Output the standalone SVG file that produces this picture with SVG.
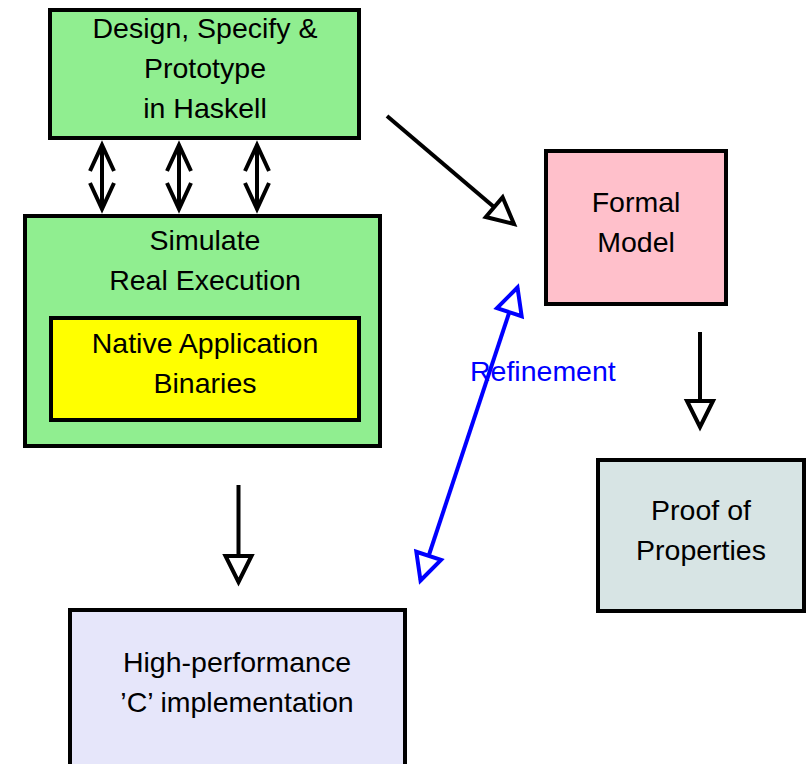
<svg xmlns="http://www.w3.org/2000/svg" width="807" height="764" viewBox="0 0 807 764">
  <style>
    .box { stroke: #000; stroke-width: 4; }
    .lbl { font-family: "Liberation Sans", Arial, sans-serif; font-size: 28.5px; fill: #000; text-anchor: middle; }
    .link { fill: none; stroke: #000; stroke-width: 4; }
    .blue { stroke: #0000ff; }
  </style>
  <defs>
    <!-- open chevron head -->
    <marker id="vee" markerUnits="userSpaceOnUse" viewBox="-32 -18 40 36" refX="0" refY="0" markerWidth="40" markerHeight="36" orient="auto-start-reverse" overflow="visible">
      <path d="M-26,-12 L0,0 L-26,12" fill="none" stroke="#000" stroke-width="4"/>
    </marker>
    <!-- hollow triangle head -->
    <marker id="tri" markerUnits="userSpaceOnUse" viewBox="-32 -18 40 36" refX="0" refY="0" markerWidth="40" markerHeight="36" orient="auto-start-reverse" overflow="visible">
      <path d="M0,0 L-26,-13 L-26,13 Z" fill="#fff" stroke="#000" stroke-width="4"/>
    </marker>
    <marker id="triBlue" markerUnits="userSpaceOnUse" viewBox="-32 -18 40 36" refX="0" refY="0" markerWidth="40" markerHeight="36" orient="auto-start-reverse" overflow="visible">
      <path d="M0,0 L-26,-13 L-26,13 Z" fill="#fff" stroke="#0000ff" stroke-width="4"/>
    </marker>
  </defs>

  <g id="design">
    <rect class="box" x="50" y="10" width="309" height="128" fill="#90ee90"/>
    <text class="lbl" x="205" y="38">Design, Specify &amp;</text>
    <text class="lbl" x="205" y="78">Prototype</text>
    <text class="lbl" x="205" y="118">in Haskell</text>
  </g>

  <g id="simulate">
    <rect class="box" x="25" y="216" width="355" height="230" fill="#90ee90"/>
    <text class="lbl" x="205" y="250">Simulate</text>
    <text class="lbl" x="205" y="290">Real Execution</text>
  </g>

  <g id="native">
    <rect class="box" x="51" y="318" width="308" height="102" fill="#ffff00"/>
    <text class="lbl" x="205" y="353">Native Application</text>
    <text class="lbl" x="205" y="393">Binaries</text>
  </g>

  <g id="formal">
    <rect class="box" x="546" y="151" width="180" height="153" fill="#ffc0cb"/>
    <text class="lbl" x="636" y="212">Formal</text>
    <text class="lbl" x="636" y="252">Model</text>
  </g>

  <g id="proof">
    <rect class="box" x="598" y="460" width="206" height="151" fill="#d7e4e4"/>
    <text class="lbl" x="701" y="520">Proof of</text>
    <text class="lbl" x="701" y="560">Properties</text>
  </g>

  <g id="impl">
    <rect class="box" x="70" y="610" width="335" height="160" fill="#e6e6fa"/>
    <text class="lbl" x="237" y="672">High-performance</text>
    <text class="lbl" x="237" y="712">’C’ implementation</text>
  </g>

  <g id="connectors">
    <line class="link" x1="102" y1="145" x2="102" y2="209" marker-start="url(#vee)" marker-end="url(#vee)"/>
    <line class="link" x1="179" y1="145" x2="179" y2="209" marker-start="url(#vee)" marker-end="url(#vee)"/>
    <line class="link" x1="257" y1="145" x2="257" y2="209" marker-start="url(#vee)" marker-end="url(#vee)"/>
    <line class="link" x1="387" y1="116" x2="514" y2="224" marker-end="url(#tri)"/>
    <line class="link" x1="238.5" y1="485" x2="238.5" y2="582" marker-end="url(#tri)"/>
    <line class="link" x1="700" y1="332" x2="700" y2="427" marker-end="url(#tri)"/>
    <line class="link blue" x1="420.5" y1="580.5" x2="517.5" y2="287.5" marker-start="url(#triBlue)" marker-end="url(#triBlue)"/>
    <text x="470" y="381" font-family="'Liberation Sans', Arial, sans-serif" font-size="28.5" fill="#0000ff">Refinement</text>
  </g>
</svg>
